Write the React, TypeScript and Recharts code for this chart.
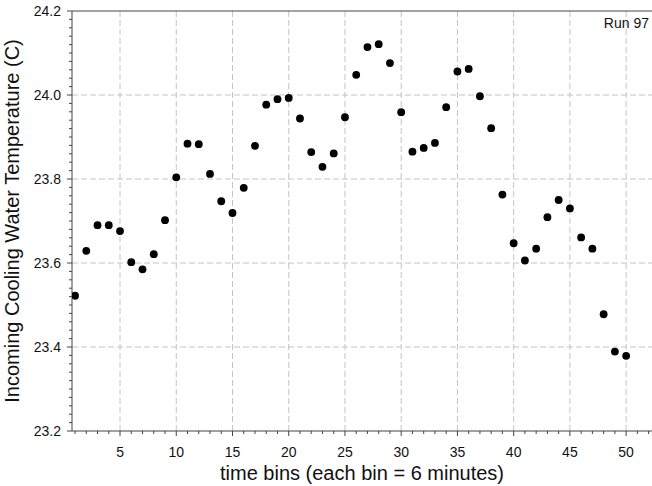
import { ScatterChart, Scatter, XAxis, YAxis, CartesianGrid, ReferenceLine } from 'recharts';

// time bin index (each bin = 6 minutes)
const bins = [
  1, 2, 3, 4, 5, 6, 7, 8, 9, 10, 11, 12, 13, 14, 15, 16, 17, 18, 19, 20, 21, 22, 23, 24, 25,
  26, 27, 28, 29, 30, 31, 32, 33, 34, 35, 36, 37, 38, 39, 40, 41, 42, 43, 44, 45, 46, 47, 48, 49, 50,
];

// incoming cooling water temperature (C), run 97
const temps = [
  23.522, 23.629, 23.69, 23.69, 23.676, 23.602, 23.585, 23.621, 23.702, 23.804,
  23.884, 23.883, 23.812, 23.747, 23.719, 23.779, 23.879, 23.977, 23.99, 23.993,
  23.944, 23.864, 23.829, 23.861, 23.947, 24.048, 24.114, 24.121, 24.076, 23.959,
  23.865, 23.874, 23.886, 23.971, 24.056, 24.062, 23.997, 23.921, 23.763, 23.647,
  23.606, 23.634, 23.709, 23.75, 23.73, 23.661, 23.634, 23.478, 23.389, 23.379,
];

const xGridTicks = [5, 10, 15, 20, 25, 30, 35, 40, 45, 50];
const yGridTicks = [23.4, 23.6, 23.8, 24.0];
const xAllTicks = Array.from({ length: 52 }, (_, i) => i + 1);
const yAllTicks = Array.from({ length: 51 }, (_, i) => +(23.2 + i * 0.02).toFixed(2));

const data = bins.map((b, i) => ({ bin: b, temp: temps[i] }));

const FONT = '"Liberation Sans", Arial, sans-serif';
const AXIS = '#444';

const XTick = (props: any) => {
  const { x, y, payload } = props;
  const v = payload.value;
  const major = v % 5 === 0;
  return (
    <g>
      <line x1={x} x2={x} y1={y} y2={y + (major ? 5 : 3)} stroke={AXIS} />
      {major && (
        <text x={x} y={y + 26} textAnchor="middle" fontSize={14} fill="#111" fontFamily={FONT}>
          {v}
        </text>
      )}
    </g>
  );
};

const YTick = (props: any) => {
  const { x, y, payload } = props;
  const v = payload.value;
  const major = Math.abs(v * 5 - Math.round(v * 5)) < 1e-6;
  return (
    <g>
      <line x1={x} x2={x - (major ? 5 : 3)} y1={y} y2={y} stroke={AXIS} />
      {major && (
        <text x={x - 11} y={y + 5} textAnchor="end" fontSize={14} fill="#111" fontFamily={FONT}>
          {v.toFixed(1)}
        </text>
      )}
    </g>
  );
};

const Dot = (props: any) => <circle cx={props.cx} cy={props.cy} r={3.9} fill="#000" />;

export default function App() {
  return (
    <div style={{ position: 'absolute', left: 0, top: 0, width: 652, height: 486, background: '#fff', fontFamily: FONT }}>
      <ScatterChart width={652} height={486} margin={{ top: 11, right: 0, bottom: 0, left: 0 }}>
        <CartesianGrid
          horizontalValues={yGridTicks}
          verticalValues={xGridTicks}
          stroke="#c4c4c4"
          strokeDasharray="6 3"
        />
        <XAxis
          type="number"
          dataKey="bin"
          domain={[0.73, 52.3]}
          ticks={xAllTicks}
          interval={0}
          allowDataOverflow
          height={55}
          tickSize={0}
          tickMargin={0}
          tickLine={false}
          tick={<XTick />}
          axisLine={{ stroke: AXIS }}
          label={{
            value: 'time bins (each bin = 6 minutes)',
            position: 'insideBottom',
            offset: 6,
            style: { fontSize: 20, fill: '#111', fontFamily: FONT },
          }}
        />
        <YAxis
          type="number"
          dataKey="temp"
          domain={[23.2, 24.2]}
          ticks={yAllTicks}
          interval={0}
          allowDataOverflow
          width={72}
          tickSize={0}
          tickMargin={0}
          tickLine={false}
          tick={<YTick />}
          axisLine={{ stroke: AXIS }}
          label={{
            value: 'Incoming Cooling Water Temperature (C)',
            angle: -90,
            position: 'insideLeft',
            offset: 12,
            style: { fontSize: 20, fill: '#111', fontFamily: FONT, textAnchor: 'middle' },
          }}
        />
        <ReferenceLine y={24.2} stroke={AXIS} ifOverflow="visible" />
        <Scatter data={data} shape={<Dot />} isAnimationActive={false} />
      </ScatterChart>
      <div style={{ position: 'absolute', right: 3, top: 15, fontSize: 14, color: '#111' }}>Run 97</div>
    </div>
  );
}
